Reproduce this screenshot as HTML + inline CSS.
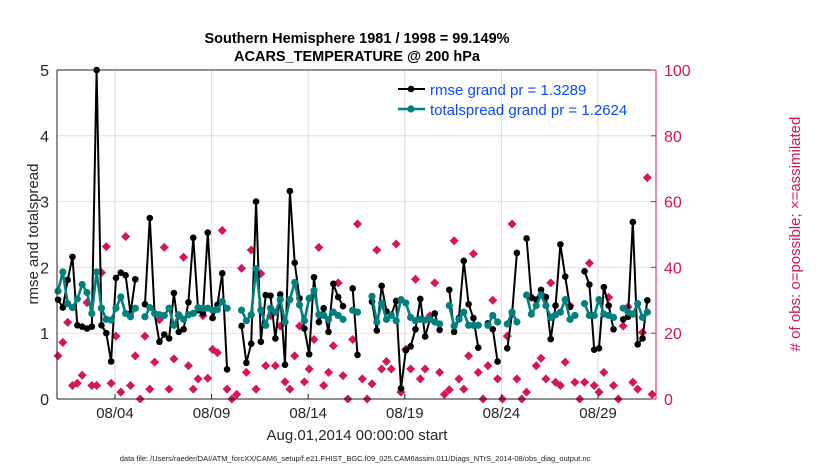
<!DOCTYPE html>
<html><head><meta charset="utf-8"><style>
body{margin:0;background:#fff;}
svg{display:block;font-family:"Liberation Sans",sans-serif;}
</style></head><body>
<svg id="chart" width="830" height="470" viewBox="0 0 830 470">
<rect width="830" height="470" fill="#fff"/>
<g id="grid"></g>
<g id="series"></g>
<g id="axes"></g>
</svg>
<script>
const N = 124;
const rmse = [1.51,1.39,1.81,2.16,1.12,1.10,1.07,1.10,5.0,1.12,1.0,0.57,1.84,1.92,1.88,1.30,1.82,null,1.44,2.75,1.30,0.87,0.98,0.92,1.61,1.02,1.06,1.47,2.45,1.35,1.30,2.53,1.23,1.43,1.91,0.45,null,null,1.11,0.55,0.84,3.0,0.87,1.58,1.57,0.92,1.59,0.52,3.16,2.07,1.53,1.07,0.68,1.85,1.17,1.38,1.02,1.75,1.55,1.41,null,1.68,0.67,null,null,1.48,1.04,1.72,1.33,1.28,1.49,0.16,0.74,0.80,1.06,1.52,0.95,1.21,1.30,1.05,null,1.66,1.02,1.23,2.1,1.44,1.23,0.78,null,1.15,1.06,0.57,null,0.77,1.30,2.22,null,2.44,1.54,1.51,1.66,1.55,0.91,1.42,2.35,1.86,1.40,null,null,1.94,1.74,0.75,0.77,1.70,1.42,1.06,null,1.21,1.25,2.69,0.83,0.92,1.50,null];
const spread = [1.64,1.93,1.45,1.39,1.52,1.74,1.62,1.30,1.93,1.38,1.21,1.20,1.38,1.55,1.30,1.25,1.38,null,1.25,1.39,1.30,1.28,1.27,1.38,1.12,1.28,1.21,1.28,1.30,1.39,1.38,1.38,1.35,1.36,1.48,1.38,null,null,1.35,1.19,1.28,1.98,1.35,1.12,1.38,1.32,1.51,1.17,1.51,1.77,1.43,1.19,1.53,1.65,1.28,1.27,1.21,1.32,1.27,1.21,null,1.35,1.32,null,null,1.56,1.17,1.46,1.21,1.27,1.19,1.51,1.46,1.24,1.19,1.21,1.20,1.21,1.17,1.14,null,1.42,1.11,1.21,1.32,1.12,1.12,1.12,null,1.12,1.27,1.17,null,1.14,1.32,1.17,null,1.58,1.29,1.42,1.58,1.42,1.24,1.28,1.32,1.51,1.21,1.27,null,1.45,1.27,1.27,1.51,1.29,1.27,1.24,null,1.38,1.32,1.29,1.45,1.24,1.32,null];
const obsPossible = [13.1,17.2,23.3,4.1,4.8,7.2,29.3,4.1,4.1,38.4,46.3,4.8,19.1,2.1,49.4,4.1,13.1,0,19.1,3.0,11.2,24.1,46.1,3.0,12.2,25.3,43.1,10.1,3.0,6.1,25.3,6.3,15.1,14.1,51.2,3.0,0,1.4,39.7,8.1,45.3,3.0,38.1,10.1,25.3,10.1,22.2,5.2,3.0,13.1,22.2,5.2,9.1,18.1,46.1,4.1,8.1,16.2,35.3,7.1,0,18.1,53.2,6.1,0,4.6,45.3,9.1,11.4,9.1,47.1,2.1,15.1,9.1,36.4,6.1,9.1,25.3,35.3,8.1,1.4,2.8,48.1,6.1,3.0,13.1,44.1,8.1,0,10.1,30.0,6.1,0,19.1,53.2,6.1,0,2.1,30.9,10.1,12.4,6.1,35.3,5.1,4.1,11.2,28.4,5.1,0,5.1,41.3,4.1,2.1,8.1,30.9,4.1,0,22.2,28.0,5.1,3.0,20.2,67.3,1.4];
const yTicksLeft = [0,1,2,3,4,5];
const yTicksRight = [0,20,40,60,80,100];
const xTickDays = [3,8,13,18,23,28];
const xTickLabels = ["08/04","08/09","08/14","08/19","08/24","08/29"];

const X0=57, X1=656, Y0=399, Y1=70;
const xScale = i => X0 + (i/N)*(X1-X0) + 1;
const xDay = d => X0 + (d/31)*(X1-X0);
const yL = v => Y0 - (v/5)*(Y0-Y1);
const yR = v => Y0 - (v/100)*(Y0-Y1);
const NS="http://www.w3.org/2000/svg";
function mk(tag, attrs, parent){const e=document.createElementNS(NS,tag);for(const k in attrs)e.setAttribute(k,attrs[k]);parent.appendChild(e);return e;}
const grid=document.getElementById('grid'), ser=document.getElementById('series'), ax=document.getElementById('axes');

// grid
yTicksLeft.forEach(v=>{ if(v>0&&v<5){const l=mk('line',{x1:X0,x2:X1,y1:yL(v),y2:yL(v),stroke:'#f0d8e2','stroke-width':1},grid);

}});
xTickDays.forEach(d=>{const l=mk('line',{x1:xDay(d),x2:xDay(d),y1:Y1,y2:Y0,stroke:'#dcdcdc','stroke-width':1},grid);

});

// obs markers
const pink='#d6145f';
obsPossible.forEach((v,i)=>{ if(v==null)return; const cx=xScale(i), cy=yR(v);
 const g=mk('g',{},ser);
 
 
 mk('path',{d:`M${cx-4.5},${cy}L${cx},${cy-4.5}L${cx+4.5},${cy}L${cx},${cy+4.5}Z`,fill:pink},g);
 mk('path',{d:`M${cx-4},${cy}H${cx+4}M${cx},${cy-4}V${cy+4}`,stroke:pink,'stroke-width':1.2},g);
});

function drawLine(data,color,w,r,name){
 let d='', pen=false;
 data.forEach((v,i)=>{ if(v==null){pen=false;return;} d+=(pen?'L':'M')+xScale(i).toFixed(1)+','+yL(v).toFixed(1); pen=true;});
 const p=mk('path',{d:d,fill:'none',stroke:color,'stroke-width':w,'stroke-linejoin':'round'},ser);
 
 
 data.forEach((v,i)=>{ if(v==null)return; const c=mk('circle',{cx:xScale(i),cy:yL(v),r:r,fill:color},ser);
  
  });
}
drawLine(rmse,'#000',2,3.3,'rmse');
drawLine(spread,'#00807f',2.6,3.6,'totalspread');

// frame
let f=mk('line',{x1:X0,x2:X1,y1:Y1,y2:Y1,stroke:'#222','stroke-width':1},ax);
 
f=mk('line',{x1:X0,x2:X1,y1:Y0,y2:Y0,stroke:'#222','stroke-width':1},ax);
 
f=mk('line',{x1:X0,x2:X0,y1:Y1,y2:Y0,stroke:'#222','stroke-width':1},ax);
 
f=mk('line',{x1:X1,x2:X1,y1:Y1,y2:Y0,stroke:pink,'stroke-width':1},ax);
 

yTicksLeft.forEach(v=>{const t=mk('text',{x:X0-8,y:yL(v)+6,'text-anchor':'end','font-size':16,fill:'#262626'},ax);t.textContent=v;

});
yTicksRight.forEach(v=>{mk('line',{x1:X1-5,x2:X1,y1:yR(v),y2:yR(v),stroke:pink},ax);
const t=mk('text',{x:X1+8,y:yR(v)+6,'font-size':16,fill:pink},ax);t.textContent=v;

});
xTickDays.forEach((d,k)=>{mk('line',{x1:xDay(d),x2:xDay(d),y1:Y0,y2:Y0-5,stroke:'#222'},ax);
const t=mk('text',{x:xDay(d),y:418,'text-anchor':'middle','font-size':15,fill:'#262626'},ax);t.textContent=xTickLabels[k];

});
</script>
<svg style="position:absolute;left:0;top:0" width="830" height="470">
<text x="357" y="43" text-anchor="middle" font-size="14.5" font-weight="bold" font-family="Liberation Sans, sans-serif">Southern Hemisphere 1981 / 1998 = 99.149%</text>
<text x="357" y="61" text-anchor="middle" font-size="14.5" font-weight="bold" font-family="Liberation Sans, sans-serif">ACARS_TEMPERATURE @ 200 hPa</text>
<text transform="translate(38,234) rotate(-90)" text-anchor="middle" font-size="15" fill="#262626" font-family="Liberation Sans, sans-serif">rmse and totalspread</text>
<text transform="translate(800,234) rotate(-90)" text-anchor="middle" font-size="15" fill="#d6145f" font-family="Liberation Sans, sans-serif"># of obs: o=possible; ×=assimilated</text>
<text x="357" y="440" text-anchor="middle" font-size="15" fill="#262626" font-family="Liberation Sans, sans-serif">Aug.01,2014 00:00:00 start</text>
<text x="355" y="461" text-anchor="middle" font-size="7.5" fill="#222" font-family="Liberation Sans, sans-serif">data file: /Users/raeder/DAI/ATM_forcXX/CAM6_setup/f.e21.FHIST_BGC.f09_025.CAM6assim.011/Diags_NTrS_2014-08/obs_diag_output.nc</text>
<g>
<line x1="398" x2="425" y1="89" y2="89" stroke="#000" stroke-width="2"/><circle cx="411" cy="89" r="3.3"/>
<text x="430" y="95" font-size="15" fill="#0a4bff" font-family="Liberation Sans, sans-serif">rmse grand pr = 1.3289</text>
<line x1="398" x2="425" y1="109" y2="109" stroke="#00807f" stroke-width="2.6"/><circle cx="411" cy="109" r="3.6" fill="#00807f"/>
<text x="430" y="115" font-size="15" fill="#0a4bff" font-family="Liberation Sans, sans-serif">totalspread grand pr = 1.2624</text>
</g>
</svg>
</body></html>
